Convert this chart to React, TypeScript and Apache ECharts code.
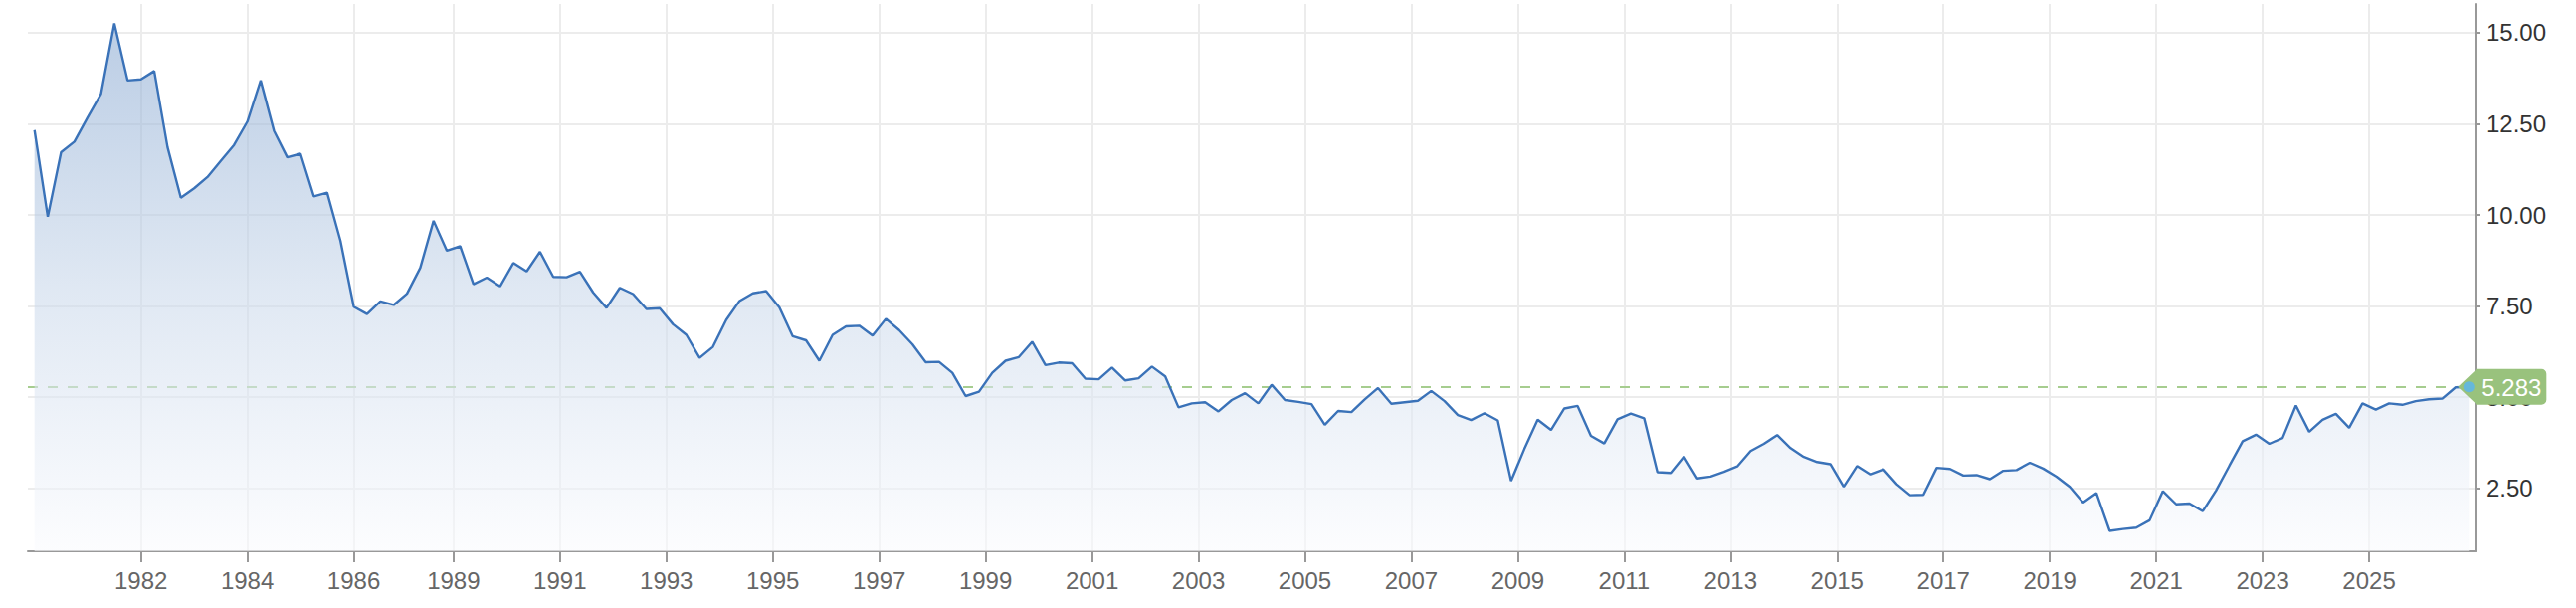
import React, { useEffect, useRef } from "react";
import * as echarts from "echarts";

// Quarterly values (index 0 = first quarter shown)
const values: number[] = [
  12.33, 9.95, 11.72, 12.01, 12.68, 13.32, 15.26, 13.69, 13.72, 13.95,
  11.86, 10.47, 10.73, 11.04, 11.48, 11.92, 12.56, 13.69, 12.31, 11.58,
  11.68, 10.51, 10.61, 9.29, 7.48, 7.28, 7.63, 7.53, 7.84, 8.55,
  9.84, 9.02, 9.14, 8.1, 8.28, 8.04, 8.68, 8.45, 8.99, 8.3,
  8.29, 8.44, 7.87, 7.45, 8.0, 7.83, 7.42, 7.44, 7.0, 6.71,
  6.08, 6.38, 7.12, 7.64, 7.85, 7.91, 7.46, 6.67, 6.56, 6.0,
  6.71, 6.94, 6.96, 6.69, 7.15, 6.84, 6.45, 5.96, 5.97, 5.67,
  5.03, 5.15, 5.67, 6.0, 6.1, 6.52, 5.88, 5.95, 5.93, 5.51,
  5.49, 5.81, 5.46, 5.52, 5.84, 5.57, 4.72, 4.83, 4.86, 4.61,
  4.92, 5.11, 4.83, 5.34, 4.92, 4.87, 4.81, 4.24, 4.62, 4.59,
  4.94, 5.25, 4.82, 4.86, 4.9, 5.17, 4.89, 4.51, 4.37, 4.56,
  4.36, 2.7, 3.58, 4.38, 4.1, 4.69, 4.76, 3.94, 3.73, 4.39,
  4.55, 4.42, 2.94, 2.92, 3.37, 2.77, 2.82, 2.95, 3.1, 3.52,
  3.72, 3.96, 3.6, 3.36, 3.22, 3.16, 2.54, 3.11, 2.88, 3.02,
  2.61, 2.31, 2.32, 3.06, 3.03, 2.85, 2.86, 2.75, 2.98, 3.0,
  3.2, 3.04, 2.82, 2.54, 2.11, 2.37, 1.33, 1.38, 1.42, 1.62,
  2.42, 2.06, 2.08, 1.87, 2.44, 3.12, 3.79, 3.97, 3.72, 3.88,
  4.77, 4.05, 4.38, 4.54, 4.16, 4.83, 4.66, 4.83, 4.79, 4.89,
  4.94, 4.96, 5.27, 5.283,
];

// Year tick labels and their positions along the point index
const tickLabels: string[] = [
  "1982", "1984", "1986", "1989", "1991", "1993", "1995", "1997", "1999", "2001", "2003",
  "2005", "2007", "2009", "2011", "2013", "2015", "2017", "2019", "2021", "2023", "2025",
];
const tickPositions: number[] = [
  8, 16, 24, 31.5, 39.5, 47.5, 55.5, 63.5, 71.5, 79.5, 87.5,
  95.5, 103.5, 111.5, 119.5, 127.5, 135.5, 143.5, 151.5, 159.5, 167.5, 175.5,
];

const yTicks: number[] = [2.5, 5, 7.5, 10, 12.5, 15];
const yMin = 0.77;
const yMax = 15.79;

const FONT = "'Liberation Sans', Arial, Helvetica, sans-serif";
const LINE_COLOR = "#3a72b8";
const TAG_GREEN = "#99c27d";
const DASH_GREEN = "#a6cd8f";

export default function App() {
  const ref = useRef<HTMLDivElement>(null);

  useEffect(() => {
    if (!ref.current) return;
    const chart = echarts.init(ref.current, null, { renderer: "svg" });
    const n = values.length;
    const lastIdx = n - 1;
    const last = values[lastIdx];
    const seriesData = values.map((v, i) => [i, v]);

    chart.setOption({
      animation: false,
      backgroundColor: "#ffffff",
      grid: { left: 28, right: 101, top: 4, bottom: 57 },
      xAxis: {
        type: "value",
        min: -0.5,
        max: n - 0.5,
        axisLine: { show: true, onZero: false, lineStyle: { color: "#999999", width: 2 } },
        axisTick: {
          show: true,
          length: 11,
          customValues: tickPositions,
          lineStyle: { color: "#999999", width: 2 },
        },
        axisLabel: {
          customValues: tickPositions,
          formatter: (v: number) => {
            const k = tickPositions.indexOf(v);
            return k >= 0 ? tickLabels[k] : "";
          },
          color: "#666666",
          fontSize: 24,
          fontFamily: FONT,
          margin: 17,
        },
        splitLine: { show: true, lineStyle: { color: "#ececec", width: 2 } },
      },
      yAxis: {
        type: "value",
        position: "right",
        min: yMin,
        max: yMax,
        axisLine: { show: true, onZero: false, lineStyle: { color: "#999999", width: 2 } },
        axisTick: {
          show: true,
          length: 5,
          customValues: yTicks,
          lineStyle: { color: "#999999", width: 2 },
        },
        axisLabel: {
          customValues: yTicks,
          formatter: (v: number) => v.toFixed(2),
          color: "#333333",
          fontSize: 24,
          fontFamily: FONT,
          margin: 11,
        },
        splitLine: { show: true, lineStyle: { color: "#ececec", width: 2 } },
      },
      series: [
        {
          type: "line",
          data: seriesData,
          showSymbol: false,
          symbol: "none",
          z: 2,
          lineStyle: { color: LINE_COLOR, width: 2.4 },
          areaStyle: {
            origin: "start",
            color: new echarts.graphic.LinearGradient(0, 0, 0, 1, [
              { offset: 0, color: "rgba(136,168,209,0.82)" },
              { offset: 0.5, color: "rgba(200,215,234,0.82)" },
              { offset: 1, color: "rgba(250,251,254,0.82)" },
            ]),
          },
          markLine: {
            z: 1,
            silent: true,
            symbol: ["none", "none"],
            label: { show: false },
            lineStyle: { color: DASH_GREEN, type: [10, 10], width: 2 },
            data: [{ yAxis: last }],
          },
        },
        {
          type: "custom",
          z: 10,
          clip: false,
          silent: true,
          data: [[lastIdx, last]],
          renderItem: (params: any, api: any) => {
            const p = api.coord([api.value(0), api.value(1)]);
            const x = p[0];
            const y = p[1];
            return {
              type: "group",
              children: [
                {
                  type: "polygon",
                  shape: { points: [[x - 11, y], [x + 8, y - 18], [x + 8, y + 18]] },
                  style: { fill: TAG_GREEN },
                },
                {
                  type: "rect",
                  shape: { x: x + 7, y: y - 18, width: 71, height: 36, r: [0, 5, 5, 0] },
                  style: { fill: TAG_GREEN },
                },
                {
                  type: "text",
                  style: {
                    text: String(api.value(1)),
                    x: x + 13,
                    y: y + 1,
                    fill: "#ffffff",
                    fontSize: 24,
                    fontFamily: FONT,
                    align: "left",
                    verticalAlign: "middle",
                  },
                },
              ],
            };
          },
        },
        {
          type: "scatter",
          z: 11,
          clip: false,
          silent: true,
          data: [[lastIdx, last]],
          symbol: "circle",
          symbolSize: 11,
          itemStyle: { color: "#57b5f3" },
        },
      ],
    });

    return () => {
      chart.dispose();
    };
  }, []);

  return (
    <div
      ref={ref}
      style={{
        position: "fixed",
        left: 0,
        top: 0,
        width: "2589px",
        height: "611px",
        background: "#ffffff",
      }}
    />
  );
}
